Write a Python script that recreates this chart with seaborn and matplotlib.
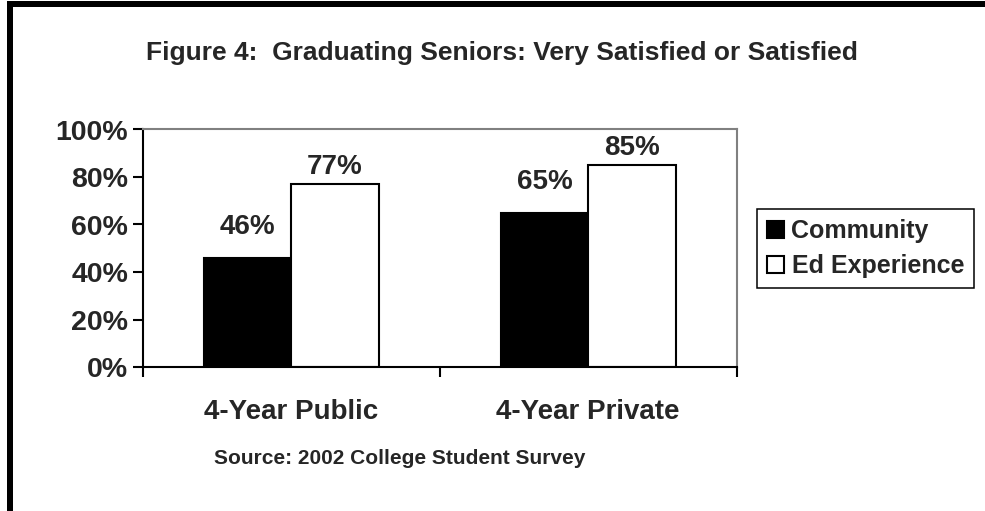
import matplotlib
matplotlib.use("Agg")
import matplotlib.pyplot as plt
import seaborn as sns
import pandas as pd
from matplotlib.patches import Rectangle

# chart data
categories = ["4-Year Public", "4-Year Private"]
series = ["Community", "Ed Experience"]
community = [46, 65]
ed_experience = [77, 85]
yticks = [0, 20, 40, 60, 80, 100]

df = pd.DataFrame({
    "category": categories * 2,
    "series": [series[0]] * len(categories) + [series[1]] * len(categories),
    "value": community + ed_experience,
})

sns.set_theme(style="white")
plt.rcParams["font.family"] = ["Liberation Sans", "DejaVu Sans"]
plt.rcParams["font.weight"] = "bold"

fig = plt.figure(figsize=(9.85, 5.11), dpi=100)
ax = fig.add_axes([142.7 / 985, 1 - 367 / 511, (736.7 - 142.7) / 985, (367 - 129.5) / 511])

palette = {"Community": "black", "Ed Experience": "white"}
sns.barplot(data=df, x="category", y="value", hue="series", order=categories,
            hue_order=series, palette=palette, edgecolor="black", linewidth=1.5,
            width=0.59, gap=0, saturation=1, ax=ax)

# data labels, Excel style
pads = [13, 3]
for cont, pad in zip(ax.containers, pads):
    ax.bar_label(cont, labels=[f"{v:.0f}%" for v in cont.datavalues], padding=pad,
                 fontsize=20, fontweight="bold")

ax.set_ylim(0, 100)
ax.set_yticks(yticks)
ax.set_yticklabels([f"{t}%" for t in yticks], fontsize=20.5, fontweight="bold")
ax.set_xlim(-0.5, len(categories) - 0.5)
ax.set_xticks([i - 0.5 for i in range(len(categories) + 1)])
ax.set_xticklabels([])
ax.set_xticks(range(len(categories)), minor=True)
ax.set_xticklabels(categories, minor=True, fontsize=20, fontweight="bold")
ax.tick_params(axis="x", which="major", direction="out", length=7, width=1.5, color="black", bottom=True)
ax.tick_params(axis="x", which="minor", length=0, pad=23, bottom=True)
ax.tick_params(axis="y", direction="out", length=7, width=1.5, color="black", pad=3.5, left=True)
ax.set_xlabel("")
ax.set_ylabel("")

for side in ["left", "bottom"]:
    ax.spines[side].set_color("black")
    ax.spines[side].set_linewidth(1.5)
for side in ["top", "right"]:
    ax.spines[side].set_color("#808080")
    ax.spines[side].set_linewidth(1.5)

leg = ax.legend(loc="upper left", bbox_to_anchor=(757 / 985, 1 - 209 / 511),
                bbox_transform=fig.transFigure, borderaxespad=0, frameon=True,
                fancybox=False, framealpha=1, edgecolor="black",
                prop={"size": 18, "weight": "bold"}, handlelength=0.68,
                handleheight=0.68, handletextpad=0.3, labelspacing=0.45,
                borderpad=0.4, title=None)
leg.get_frame().set_linewidth(1.1)

fig.text(502 / 985, 1 - 53 / 511, "Figure 4:  Graduating Seniors: Very Satisfied or Satisfied",
         ha="center", va="center", fontsize=19, fontweight="bold")
fig.text(400 / 985, 1 - 458 / 511, "Source: 2002 College Student Survey",
         ha="center", va="center", fontsize=15, fontweight="bold")

# page border (left and top)
fig.add_artist(Rectangle((7 / 985, 0), 6 / 985, 1 - 1 / 511, transform=fig.transFigure,
                         facecolor="black", edgecolor="none"))
fig.add_artist(Rectangle((7 / 985, 1 - 7 / 511), 1 - 7 / 985, 6 / 511, transform=fig.transFigure,
                         facecolor="black", edgecolor="none"))

fig.savefig("out.png", dpi=100)
